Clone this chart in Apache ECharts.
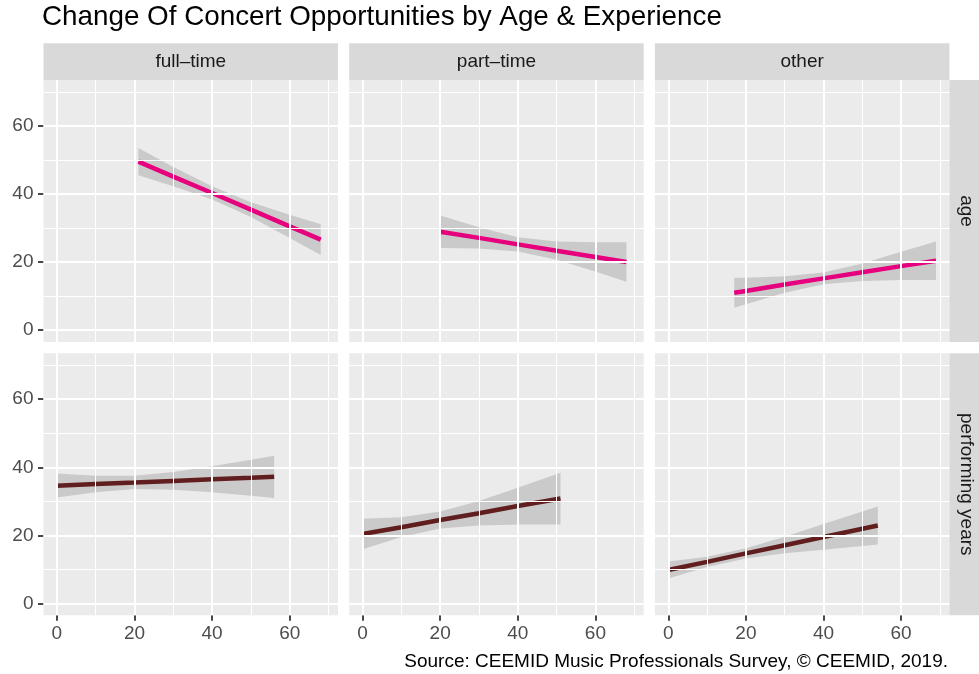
<!DOCTYPE html>
<html>
<head>
<meta charset="utf-8">
<script src="https://cdn.jsdelivr.net/npm/echarts@6/dist/echarts.min.js"></script>
<style>
  html, body { margin: 0; padding: 0; background: #ffffff; }
  #chart { width: 979px; height: 674px; }
</style>
</head>
<body>
<div id="chart"></div>
<script>
// Facet labels and axis ticks
const columns = ['full–time', 'part–time', 'other'];
const rows = ['age', 'performing years'];
const xTickValues = [0, 20, 40, 60];
const yTickValues = [0, 20, 40, 60];
const xMinorValues = [10, 30, 50, 70];
const yMinorValues = [10, 30, 50, 70];
const xDataRange = [0, 69];
const yDataRange = [0, 70];

// Linear fit and its confidence band: age
const ageFullX    = [21, 30, 40, 50, 60, 68];
const ageFullFit  = [49.5, 45.1, 40.3, 35.4, 30.5, 26.6];
const ageFullLow  = [45.5, 42.3, 38.4, 33.2, 27.1, 22.1];
const ageFullHigh = [53.5, 47.9, 42.3, 37.6, 33.9, 31.1];

const agePartX    = [20, 30, 40, 50, 60, 68];
const agePartFit  = [28.9, 27.1, 25.2, 23.3, 21.5, 20.0];
const agePartLow  = [24.1, 24.0, 23.1, 20.7, 17.2, 14.2];
const agePartHigh = [33.7, 30.2, 27.3, 26.0, 25.8, 25.8];

const ageOtherX    = [17, 20, 30, 40, 50, 60, 69];
const ageOtherFit  = [11.0, 11.5, 13.4, 15.2, 17.0, 18.8, 20.4];
const ageOtherLow  = [6.6, 7.6, 11.0, 13.5, 14.4, 14.7, 14.7];
const ageOtherHigh = [15.4, 15.4, 15.8, 16.9, 19.6, 23.0, 26.0];

// Linear fit and its confidence band: performing years
const perfFullX    = [0, 10, 20, 30, 40, 50, 56];
const perfFullFit  = [34.6, 35.1, 35.5, 36.0, 36.5, 36.9, 37.2];
const perfFullLow  = [31.1, 32.7, 33.6, 33.4, 32.7, 31.6, 31.0];
const perfFullHigh = [38.2, 37.5, 37.5, 38.6, 40.3, 42.2, 43.4];

const perfPartX    = [0, 10, 20, 30, 40, 51];
const perfPartFit  = [20.4, 22.4, 24.5, 26.5, 28.6, 30.8];
const perfPartLow  = [15.9, 19.5, 22.0, 22.9, 23.2, 23.2];
const perfPartHigh = [24.9, 25.3, 27.0, 30.1, 34.0, 38.4];

const perfOtherX    = [0, 10, 20, 30, 40, 54];
const perfOtherFit  = [9.8, 12.2, 14.7, 17.1, 19.5, 22.9];
const perfOtherLow  = [7.3, 10.7, 13.2, 14.7, 15.8, 17.3];
const perfOtherHigh = [12.3, 13.7, 16.2, 19.6, 23.3, 28.5];

const rowColors = ['#E6007E', '#601E1E'];

const panels = [
  { row: 0, col: 0, x: ageFullX,  fit: ageFullFit,  low: ageFullLow,  high: ageFullHigh },
  { row: 0, col: 1, x: agePartX,  fit: agePartFit,  low: agePartLow,  high: agePartHigh },
  { row: 0, col: 2, x: ageOtherX, fit: ageOtherFit, low: ageOtherLow, high: ageOtherHigh },
  { row: 1, col: 0, x: perfFullX,  fit: perfFullFit,  low: perfFullLow,  high: perfFullHigh },
  { row: 1, col: 1, x: perfPartX,  fit: perfPartFit,  low: perfPartLow,  high: perfPartHigh },
  { row: 1, col: 2, x: perfOtherX, fit: perfOtherFit, low: perfOtherLow, high: perfOtherHigh }
];

// Layout of the facet grid
const FONT = '"Liberation Sans", Arial, Helvetica, sans-serif';
const plotLeft = 43.5, panelW = 294.5, gapX = 11.2;
const plotTop = 80, panelH = 262, gapY = 11.3;
const stripH = 36.7;
const panelBg = '#EBEBEB', stripBg = '#D9D9D9';
const tickStyle = { color: '#333333', width: 1.8 };

const expand = (r) => { const d = (r[1] - r[0]) * 0.05; return [r[0] - d, r[1] + d]; };
const xRange = expand(xDataRange);
const yRange = expand(yDataRange);

const grids = [], xAxes = [], yAxes = [], series = [], graphics = [];

panels.forEach((p, i) => {
  const left = plotLeft + p.col * (panelW + gapX);
  const top = plotTop + p.row * (panelH + gapY);
  grids.push({ left, top, width: panelW, height: panelH, show: true,
    backgroundColor: panelBg, borderWidth: 0, containLabel: false });

  const bottomRow = p.row === rows.length - 1;
  const leftCol = p.col === 0;
  xAxes.push({
    gridIndex: i, type: 'value', min: xRange[0], max: xRange[1], position: 'bottom',
    axisLine: { show: true, onZero: false, lineStyle: { opacity: 0 } },
    axisTick: { show: bottomRow, inside: false, customValues: xTickValues, length: 5.5,
      lineStyle: tickStyle },
    axisLabel: { show: bottomRow, customValues: xTickValues, color: '#4D4D4D',
      fontSize: 19, fontFamily: FONT, margin: 9 },
    splitLine: { show: false }
  });
  yAxes.push({
    gridIndex: i, type: 'value', min: yRange[0], max: yRange[1], position: 'left',
    axisLine: { show: true, onZero: false, lineStyle: { opacity: 0 } },
    axisTick: { show: leftCol, inside: false, customValues: yTickValues, length: 5.5,
      lineStyle: tickStyle },
    axisLabel: { show: leftCol, customValues: yTickValues, color: '#4D4D4D',
      fontSize: 19, fontFamily: FONT, margin: 10 },
    splitLine: { show: false }
  });

  // panel grid lines, major and minor
  const gl = [];
  xMinorValues.forEach(v => gl.push({ xAxis: v, lineStyle: { color: '#FFFFFF', width: 1, type: 'solid' } }));
  yMinorValues.forEach(v => gl.push({ yAxis: v, lineStyle: { color: '#FFFFFF', width: 1, type: 'solid' } }));
  xTickValues.forEach(v => gl.push({ xAxis: v, lineStyle: { color: '#FFFFFF', width: 2, type: 'solid' } }));
  yTickValues.forEach(v => gl.push({ yAxis: v, lineStyle: { color: '#FFFFFF', width: 2, type: 'solid' } }));
  series.push({
    type: 'line', xAxisIndex: i, yAxisIndex: i, data: [], z: 1, silent: true,
    markLine: { silent: true, symbol: ['none', 'none'], animation: false,
      label: { show: false }, emphasis: { disabled: true }, data: gl }
  });

  // confidence band
  series.push({
    type: 'custom', xAxisIndex: i, yAxisIndex: i, z: 2, silent: true,
    data: [[p.x[0], p.fit[0]]],
    renderItem: (params, api) => {
      const pts = [];
      for (let k = 0; k < p.x.length; k++) pts.push(api.coord([p.x[k], p.high[k]]));
      for (let k = p.x.length - 1; k >= 0; k--) pts.push(api.coord([p.x[k], p.low[k]]));
      return { type: 'polygon', shape: { points: pts },
        style: { fill: 'rgba(153,153,153,0.4)', stroke: null } };
    }
  });

  // fitted line
  series.push({
    type: 'line', xAxisIndex: i, yAxisIndex: i, z: 3, silent: true,
    showSymbol: false, symbol: 'none',
    data: p.x.map((v, k) => [v, p.fit[k]]),
    lineStyle: { color: rowColors[p.row], width: 4.5, cap: 'butt' }
  });
});

// column strips
columns.forEach((label, c) => {
  const left = plotLeft + c * (panelW + gapX);
  graphics.push({ type: 'rect', shape: { x: left, y: plotTop - stripH, width: panelW, height: stripH },
    style: { fill: stripBg }, silent: true });
  graphics.push({ type: 'text', x: left + panelW / 2, y: plotTop - stripH / 2, silent: true,
    style: { text: label, fill: '#1A1A1A', fontSize: 19, fontFamily: FONT,
      textAlign: 'center', textVerticalAlign: 'middle' } });
});

// row strips
const stripX = plotLeft + columns.length * panelW + (columns.length - 1) * gapX;
rows.forEach((label, r) => {
  const top = plotTop + r * (panelH + gapY);
  graphics.push({ type: 'rect', shape: { x: stripX, y: top, width: stripH, height: panelH },
    style: { fill: stripBg }, silent: true });
  graphics.push({ type: 'text', x: stripX + stripH / 2 - 1.5, y: top + panelH / 2, rotation: -Math.PI / 2,
    silent: true,
    style: { text: label, fill: '#1A1A1A', fontSize: 19, fontFamily: FONT,
      textAlign: 'center', textVerticalAlign: 'middle' } });
});

// caption
graphics.push({ type: 'text', x: 948, y: 662, silent: true,
  style: { text: 'Source: CEEMID Music Professionals Survey, © CEEMID, 2019.', fill: '#000000',
    fontSize: 19, fontFamily: FONT, textAlign: 'right', textVerticalAlign: 'middle' } });

const chart = echarts.init(document.getElementById('chart'), null, { renderer: 'canvas' });
chart.setOption({
  animation: false,
  backgroundColor: '#FFFFFF',
  title: {
    text: 'Change Of Concert Opportunities by Age & Experience',
    left: 42, top: 3, padding: 0,
    textStyle: { fontSize: 27.8, fontWeight: 'normal', color: '#000000', fontFamily: FONT }
  },
  grid: grids,
  xAxis: xAxes,
  yAxis: yAxes,
  series: series,
  graphic: { elements: graphics }
});
</script>
</body>
</html>
